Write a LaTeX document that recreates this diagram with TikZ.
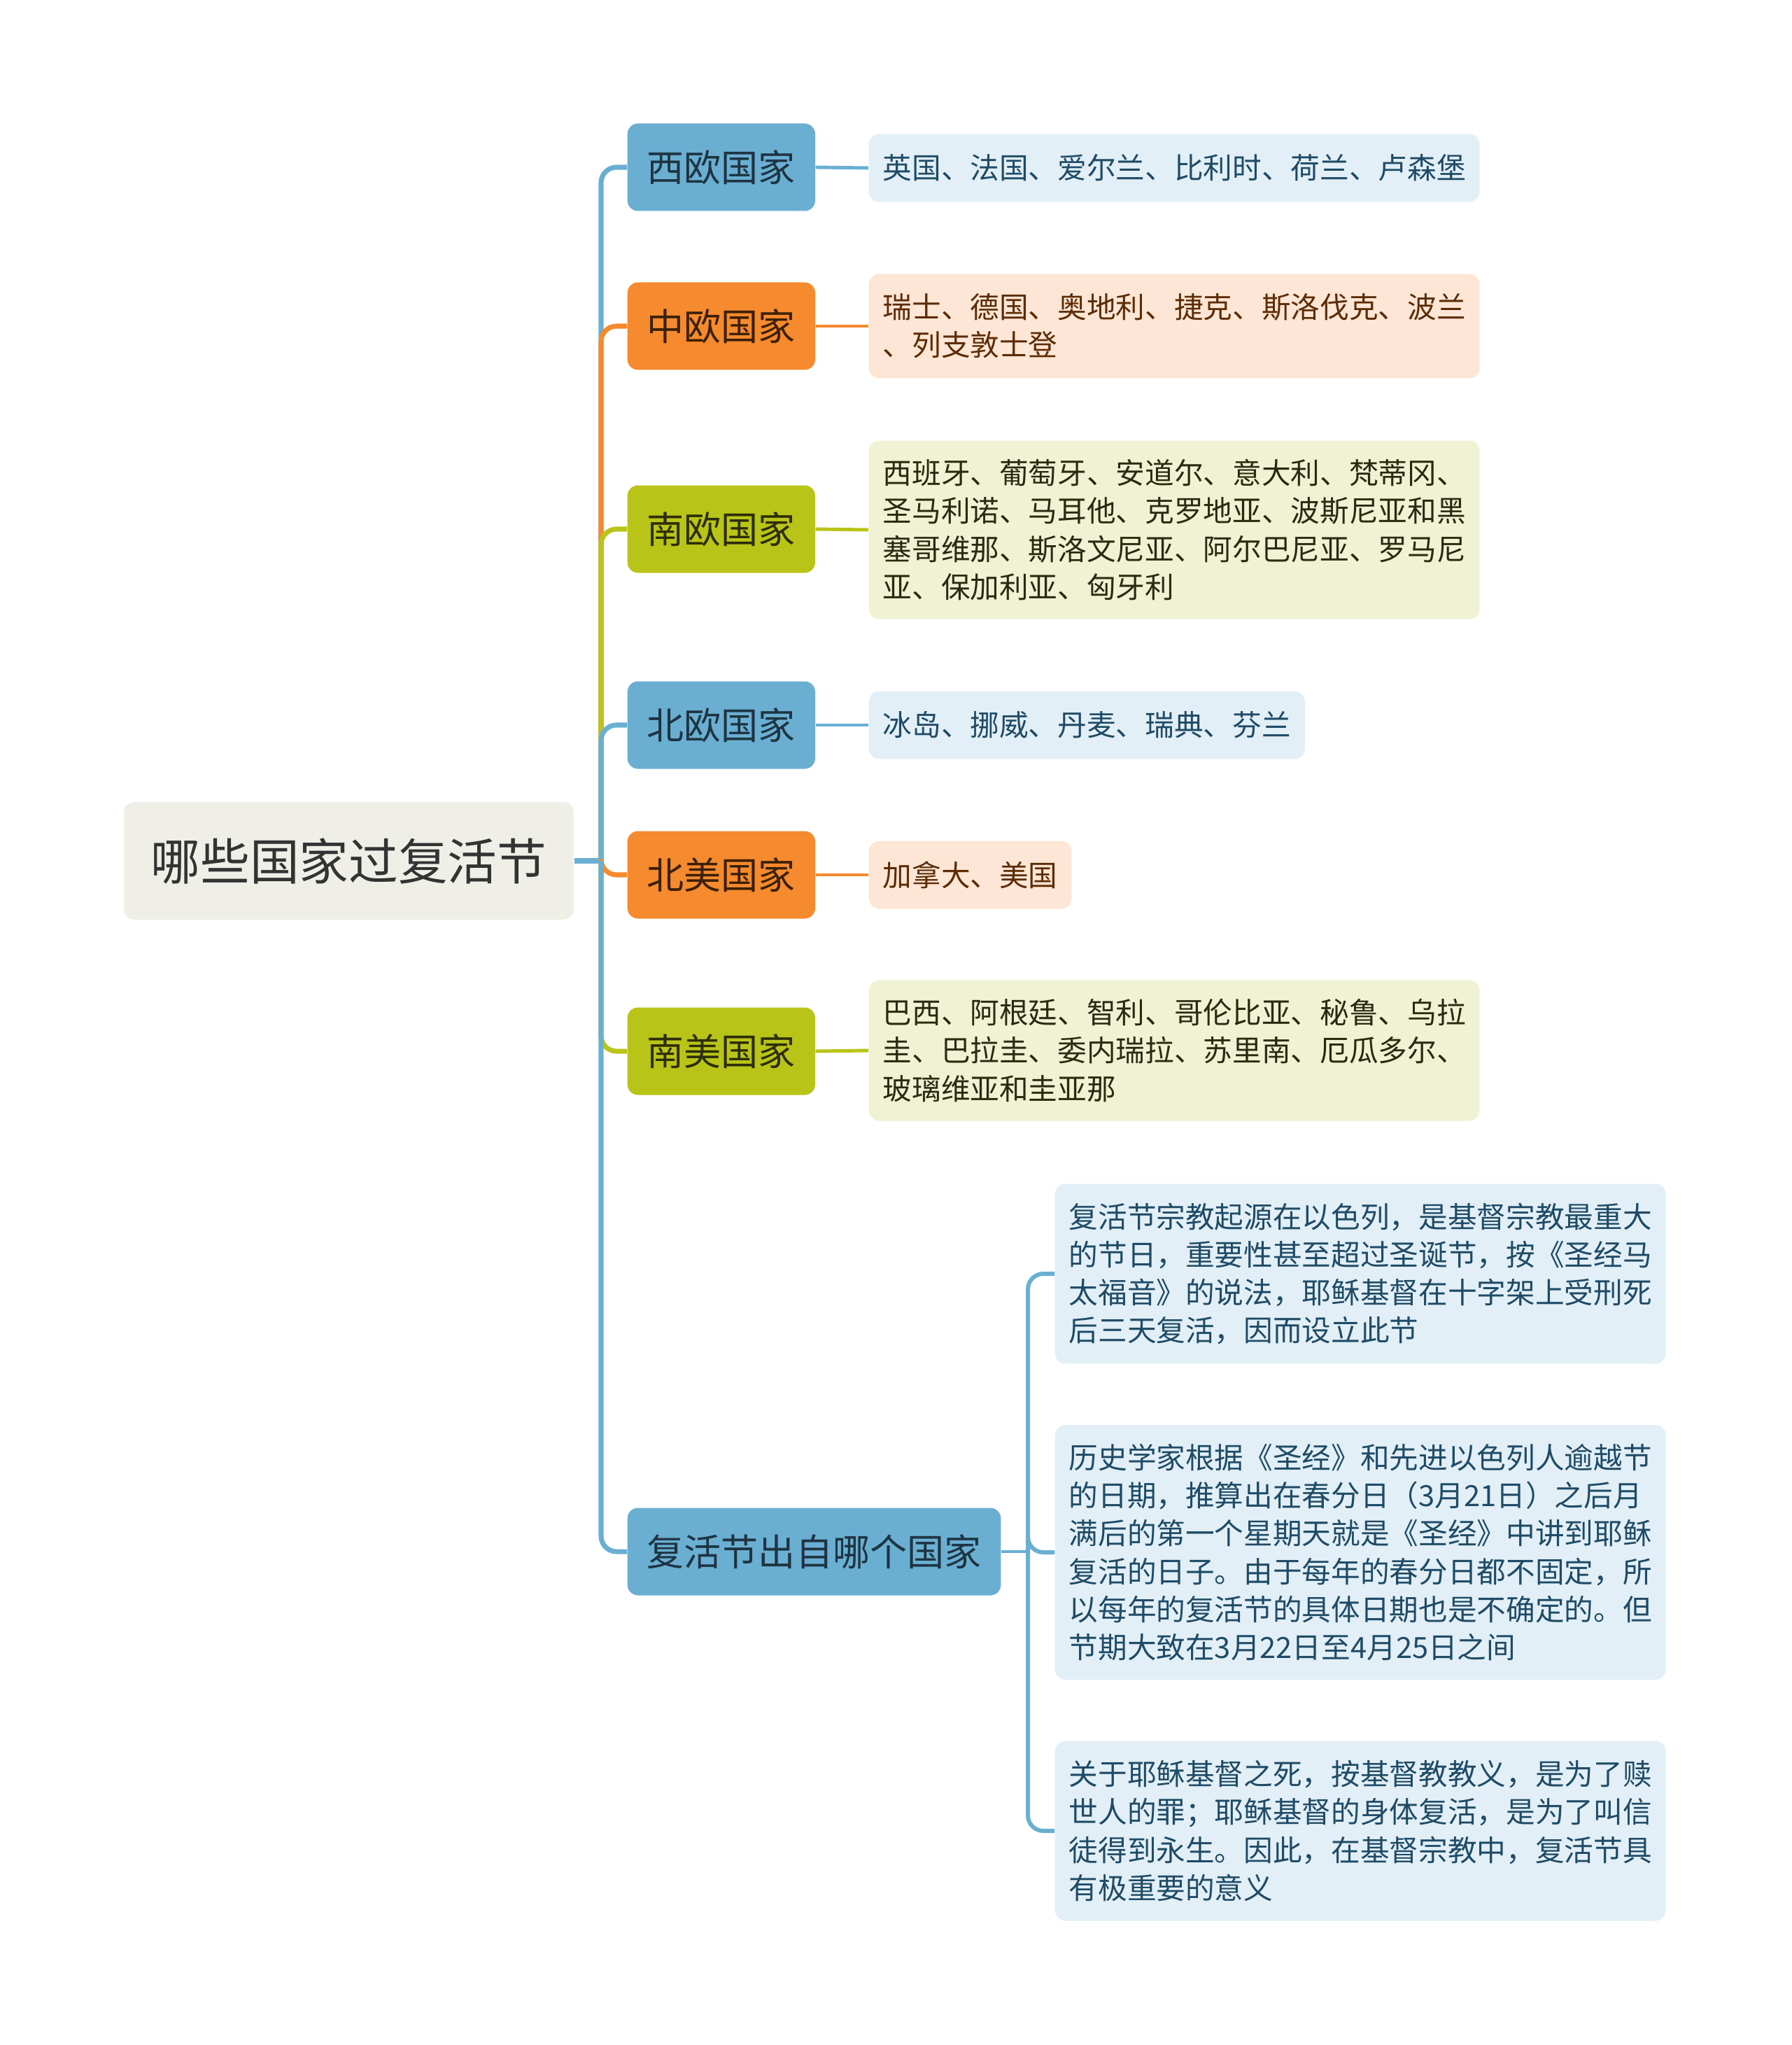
\documentclass[tikz,border=0pt]{standalone}
\usepackage{fontspec}
\setmainfont{Noto Sans CJK SC}
\usepackage{tikz}
\definecolor{Mapblue}{HTML}{6AAFD2}
\definecolor{Maporange}{HTML}{F58A2E}
\definecolor{Mapgreen}{HTML}{B9C419}
\definecolor{Mapbluelight}{HTML}{E2EFF6}
\definecolor{Maporangelight}{HTML}{FDE6D5}
\definecolor{Mapgreenlight}{HTML}{F0F2D3}
\definecolor{Maproot}{HTML}{EFEFE7}
\definecolor{Inkroot}{HTML}{333333}
\definecolor{Inkblue}{HTML}{1E3442}
\definecolor{Inkorange}{HTML}{3B2008}
\definecolor{Inkgreen}{HTML}{2C2E08}
\definecolor{Leafblue}{HTML}{1F4B66}
\definecolor{Leaforange}{HTML}{5C2C06}
\definecolor{Leafgreen}{HTML}{2A2A12}
\tikzstyle{rootbox} = [
    rectangle, rounded corners=0.15cm,
    minimum width=6.43cm,
    minimum height=1.68cm,
    text centered,
    fill=Maproot, text=Inkroot,
    font=\fontsize{20.1pt}{24pt}\selectfont
]
\tikzstyle{topic} = [
    rectangle, rounded corners=0.15cm,
    minimum height=1.25cm,
    inner xsep=0.28cm,
    anchor=west,
    font=\fontsize{15.1pt}{18pt}\selectfont
]
\tikzstyle{leaf} = [
    rectangle, rounded corners=0.15cm,
    inner xsep=0.2cm, inner ysep=0.1cm,
    align=left,
    anchor=west,
    font=\fontsize{11.85pt}{15.4pt}\selectfont
]
\tikzstyle{branch} = [
    line width=2pt,
    rounded corners=0.22cm
]
\tikzstyle{twig} = [
    line width=1.4pt
]

\begin{document}
\begin{tikzpicture}
    \useasboundingbox (0,0) rectangle (25.6,-29.22);

    \node (root) [rootbox] at (4.985,-12.30) {哪些国家过复活节};
    \coordinate (hub) at (8.59,-12.30);

    % first level
    \node (west)   [topic, fill=Mapblue,   text=Inkblue]   at (8.96,-2.39)  {西欧国家};
    \node (mid)    [topic, fill=Maporange, text=Inkorange] at (8.96,-4.66)  {中欧国家};
    \node (south)  [topic, fill=Mapgreen,  text=Inkgreen]  at (8.96,-7.56)  {南欧国家};
    \node (north)  [topic, fill=Mapblue,   text=Inkblue]   at (8.96,-10.36) {北欧国家};
    \node (namer)  [topic, fill=Maporange, text=Inkorange] at (8.96,-12.50) {北美国家};
    \node (samer)  [topic, fill=Mapgreen,  text=Inkgreen]  at (8.96,-15.02) {南美国家};
    \node (origin) [topic, fill=Mapblue,   text=Inkblue]   at (8.96,-22.17) {复活节出自哪个国家};

    % leaves
    \node (westList)  [leaf, fill=Mapbluelight,   text=Leafblue,   minimum height=0.97cm] at (12.41,-2.40)
        {英国、法国、爱尔兰、比利时、荷兰、卢森堡};
    \node (midList)   [leaf, fill=Maporangelight, text=Leaforange, minimum height=1.49cm] at (12.41,-4.66)
        {瑞士、德国、奥地利、捷克、斯洛伐克、波兰\\、列支敦士登};
    \node (southList) [leaf, fill=Mapgreenlight,  text=Leafgreen,  minimum height=2.55cm] at (12.41,-7.57)
        {西班牙、葡萄牙、安道尔、意大利、梵蒂冈、\\圣马利诺、马耳他、克罗地亚、波斯尼亚和黑\\塞哥维那、斯洛文尼亚、阿尔巴尼亚、罗马尼\\亚、保加利亚、匈牙利};
    \node (northList) [leaf, fill=Mapbluelight,   text=Leafblue,   minimum height=0.97cm] at (12.41,-10.36)
        {冰岛、挪威、丹麦、瑞典、芬兰};
    \node (namerList) [leaf, fill=Maporangelight, text=Leaforange, minimum height=0.97cm] at (12.41,-12.50)
        {加拿大、美国};
    \node (samerList) [leaf, fill=Mapgreenlight,  text=Leafgreen,  minimum height=2.01cm] at (12.41,-15.01)
        {巴西、阿根廷、智利、哥伦比亚、秘鲁、乌拉\\圭、巴拉圭、委内瑞拉、苏里南、厄瓜多尔、\\玻璃维亚和圭亚那};

    \coordinate (subhub) at (14.69,-22.17);
    \node (story)  [leaf, fill=Mapbluelight, text=Leafblue, minimum height=2.57cm] at (15.07,-18.20)
        {复活节宗教起源在以色列，是基督宗教最重大\\的节日，重要性甚至超过圣诞节，按《圣经马\\太福音》的说法，耶稣基督在十字架上受刑死\\后三天复活，因而设立此节};
    \node (dates)  [leaf, fill=Mapbluelight, text=Leafblue, minimum height=3.64cm] at (15.07,-22.18)
        {历史学家根据《圣经》和先进以色列人逾越节\\的日期，推算出在春分日（3月21日）之后月\\满后的第一个星期天就是《圣经》中讲到耶稣\\复活的日子。由于每年的春分日都不固定，所\\以每年的复活节的具体日期也是不确定的。但\\节期大致在3月22日至4月25日之间};
    \node (meaning)[leaf, fill=Mapbluelight, text=Leafblue, minimum height=2.57cm] at (15.07,-26.16)
        {关于耶稣基督之死，按基督教教义，是为了赎\\世人的罪；耶稣基督的身体复活，是为了叫信\\徒得到永生。因此，在基督宗教中，复活节具\\有极重要的意义};

    % connectors
    \draw [branch, Mapblue, line width=2.3pt] (root.east) -- (hub);
    \draw [branch, Mapblue]   (hub) |- (west.west);
    \draw [branch, Maporange] (hub) |- (mid.west);
    \draw [branch, Mapgreen]  (hub) |- (south.west);
    \draw [branch, Mapblue]   (hub) |- (north.west);
    \draw [branch, Maporange] (hub) |- (namer.west);
    \draw [branch, Mapgreen]  (hub) |- (samer.west);
    \draw [branch, Mapblue]   (hub) |- (origin.west);

    \draw [twig, Mapblue]   (west.east)  -- (westList.west);
    \draw [twig, Maporange] (mid.east)   -- (midList.west);
    \draw [twig, Mapgreen]  (south.east) -- (southList.west);
    \draw [twig, Mapblue]   (north.east) -- (northList.west);
    \draw [twig, Maporange] (namer.east) -- (namerList.west);
    \draw [twig, Mapgreen]  (samer.east) -- (samerList.west);

    \draw [twig, Mapblue] (origin.east) -- (subhub);
    \draw [branch, Mapblue, line width=1.7pt] (subhub) |- (story.west);
    \draw [branch, Mapblue, line width=1.7pt] (subhub) |- (dates.west);
    \draw [branch, Mapblue, line width=1.7pt] (subhub) |- (meaning.west);

\end{tikzpicture}
\end{document}
